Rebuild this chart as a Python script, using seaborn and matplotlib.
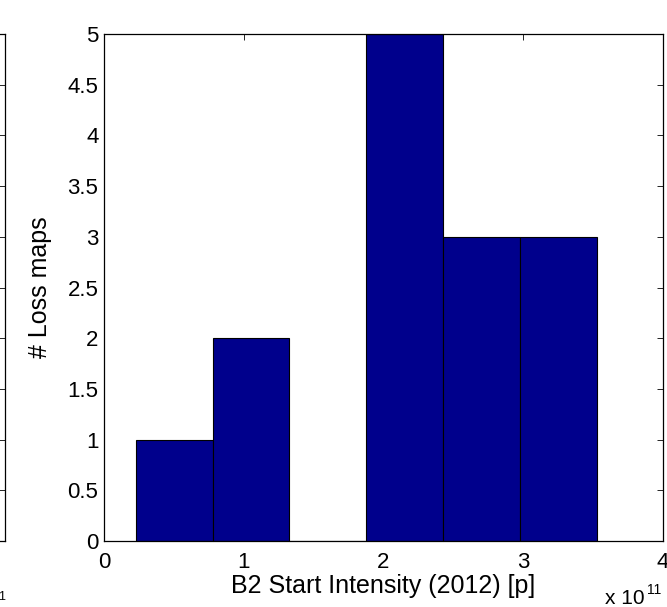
import numpy as np
import pandas as pd
import matplotlib
matplotlib.use("Agg")
import matplotlib.pyplot as plt
import seaborn as sns

# Histogram bins (x in units of 1e11 protons)
bin_edges = [0.231, 0.779, 1.327, 1.875, 2.425, 2.977, 3.526]
bin_counts = [1, 2, 0, 5, 3, 3]
x_ticks = [0, 1, 2, 3, 4]
y_ticks = [0, 0.5, 1, 1.5, 2, 2.5, 3, 3.5, 4, 4.5, 5]

sns.set_style("white")
plt.rcParams["font.family"] = ["Liberation Sans", "DejaVu Sans"]
plt.rcParams.update({
    "text.color": "black",
    "axes.labelcolor": "black",
    "xtick.color": "black",
    "ytick.color": "black",
})

BAR_COLOR = "#00008c"
TICK_FS = 16
LABEL_FS = 18


def _style_axes(ax):
    ax.tick_params(
        direction="in", top=True, right=True, length=4, width=0.6,
        labelsize=TICK_FS, colors="black",
    )
    ax.tick_params(axis="y", pad=4)
    ax.tick_params(axis="x", pad=8)
    for spine in ax.spines.values():
        spine.set_visible(True)
        spine.set_color("black")
        spine.set_linewidth(0.9)


def main():
    fig = plt.figure(figsize=(6.67, 6.07), dpi=100)
    W, H = 667, 607

    # Neighbouring panel, only its right edge is visible
    ax_left = fig.add_axes([-0.6, 1 - 541 / H, 0.6 + 5 / W, 507 / H])
    ax_left.set_xlim(0, 4)
    ax_left.set_ylim(0, 5)
    ax_left.set_yticks(y_ticks)
    ax_left.set_xticks(x_ticks)
    _style_axes(ax_left)
    ax_left.set_xticklabels([])
    ax_left.set_yticklabels([])
    fig.text(5 / W, 1 - 597 / H, "1", fontsize=9, ha="right", va="center")

    # Main histogram
    ax = fig.add_axes([104 / W, 1 - 541 / H, 559 / W, 507 / H])
    centers = [(a + b) / 2 for a, b in zip(bin_edges[:-1], bin_edges[1:])]
    df = pd.DataFrame({"intensity": centers, "count": bin_counts})
    sns.histplot(
        data=df, x="intensity", weights="count", bins=bin_edges,
        color=BAR_COLOR, alpha=1, edgecolor="black", linewidth=0.8, ax=ax,
    )
    ax.set_xlim(0, 4)
    ax.set_ylim(0, 5)
    ax.set_xticks(x_ticks)
    ax.set_yticks(y_ticks)
    ax.set_yticklabels([f"{v:g}" for v in y_ticks])
    _style_axes(ax)
    ax.set_xlabel("B2 Start Intensity (2012) [p]", fontsize=LABEL_FS, labelpad=1)
    ax.set_ylabel("# Loss maps", fontsize=LABEL_FS, labelpad=11)

    # Axis multiplier, drawn the MATLAB way
    fig.text(645 / W, 1 - 599 / H, "x 10", fontsize=15, ha="right", va="center")
    fig.text(647 / W, 1 - 590 / H, "11", fontsize=10, ha="left", va="center")

    fig.savefig("out.png", dpi=100)


if __name__ == "__main__":
    main()
